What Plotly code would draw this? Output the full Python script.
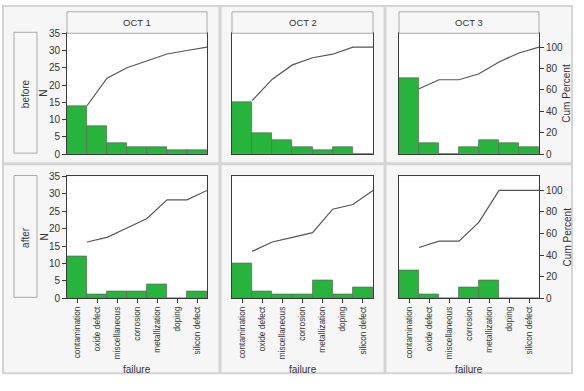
import numpy as np
import plotly.graph_objects as go

# ---------------- data ----------------
failures = ["contamination", "oxide defect", "miscellaneous", "corrosion",
            "metallization", "doping", "silicon defect"]
dates = ["OCT 1", "OCT 2", "OCT 3"]
groups = ["before", "after"]

before_oct1 = [14, 8, 3, 2, 2, 1, 1]
before_oct2 = [15, 6, 4, 2, 1, 2, 0]
before_oct3 = [22, 3, 0, 2, 4, 3, 2]
after_oct1 = [12, 1, 2, 2, 4, 0, 2]
after_oct2 = [10, 2, 1, 1, 5, 1, 3]
after_oct3 = [8, 1, 0, 3, 5, 0, 0]

n_ticks = [0, 5, 10, 15, 20, 25, 30, 35]
pct_ticks = [0, 20, 40, 60, 80, 100]
N_MAX = 35
PCT_TOP = 100 * 35 / 31   # percent scale aligned so 100% sits at N = 31

counts = {
    ("before", 0): before_oct1, ("before", 1): before_oct2, ("before", 2): before_oct3,
    ("after", 0): after_oct1, ("after", 1): after_oct2, ("after", 2): after_oct3,
}

# ---------------- layout geometry (pixels) ----------------
W, H = 584, 391
col_x = [(67, 207), (232, 373), (399, 539)]
row_y = [(29, 153), (176, 301)]


def px(x):
    return x / W


def py(y):
    return 1 - y / H


BAR_COLOR = "#27b43c"
FONT = "Liberation Sans, Arial, sans-serif"
TXT = "#333333"
AX = "#3a3a3a"

fig = go.Figure()
layout = {}
idx = np.arange(len(failures))

for r, grp in enumerate(groups):
    for c in range(3):
        k = r * 3 + c
        xa = k + 1
        ya = k + 1
        yp = k + 7
        vals = np.array(counts[(grp, c)], dtype=float)
        cum_pct = np.cumsum(vals) / vals.sum() * 100

        fig.add_trace(go.Bar(
            x=idx, y=vals, width=1.0,
            marker=dict(color=BAR_COLOR, line=dict(color="#5f6f5f", width=0.8)),
            xaxis=f"x{xa}", yaxis=f"y{ya}", showlegend=False, hoverinfo="skip"))
        fig.add_trace(go.Scatter(
            x=idx + 0.5, y=cum_pct, mode="lines",
            line=dict(color="#555555", width=1.2),
            xaxis=f"x{xa}", yaxis=f"y{yp}", showlegend=False, hoverinfo="skip"))

        x0, x1 = col_x[c]
        y0, y1 = row_y[r]
        bottom = (r == 1)
        layout[f"xaxis{xa}"] = dict(
            domain=[px(x0), px(x1)], anchor=f"y{ya}",
            range=[-0.5, len(failures) - 0.5],
            tickvals=list(idx), ticktext=failures,
            showticklabels=bottom, ticks="outside" if bottom else "",
            ticklen=4, tickcolor=AX, tickangle=-90,
            tickfont=dict(size=8.3, color=TXT, family=FONT),
            showline=True, linecolor=AX, linewidth=1, mirror=True,
            showgrid=False, zeroline=False, fixedrange=True)
        left = (c == 0)
        layout[f"yaxis{ya}"] = dict(
            domain=[py(y1), py(y0)], anchor=f"x{xa}",
            range=[0, N_MAX], tickvals=n_ticks,
            showticklabels=left, ticks="outside" if left else "",
            ticklen=4, tickcolor=AX,
            tickfont=dict(size=10, color=TXT, family=FONT),
            showline=True, linecolor=AX, linewidth=1, mirror=True,
            showgrid=False, zeroline=False, fixedrange=True)
        right = (c == 2)
        layout[f"yaxis{yp}"] = dict(
            overlaying=f"y{ya}", anchor=f"x{xa}", side="right",
            range=[0, PCT_TOP], tickvals=pct_ticks,
            showticklabels=right, ticks="outside" if right else "",
            ticklen=4, tickcolor=AX,
            tickfont=dict(size=10, color=TXT, family=FONT),
            showline=False, showgrid=False, zeroline=False, fixedrange=True)

shapes = []
annotations = []
CELL_BG = "#f6f6f6"
DIV = "#d4d4d4"


def label(text, x, y, size=10, angle=0):
    return dict(text=text, xref="paper", yref="paper", x=px(x), y=py(y),
                xanchor="center", yanchor="middle", showarrow=False,
                textangle=angle, font=dict(size=size, color=TXT, family=FONT))


# cell background + dividers
shapes.append(dict(type="rect", xref="paper", yref="paper",
                   x0=px(3), x1=px(572), y0=py(378), y1=py(1),
                   fillcolor=CELL_BG, line=dict(color=DIV, width=2), layer="below"))
for xd in (220, 385):
    shapes.append(dict(type="line", xref="paper", yref="paper",
                       x0=px(xd), x1=px(xd), y0=py(378), y1=py(1),
                       line=dict(color=DIV, width=3), layer="below"))
shapes.append(dict(type="line", xref="paper", yref="paper",
                   x0=px(3), x1=px(572), y0=py(163), y1=py(163),
                   line=dict(color=DIV, width=3), layer="below"))
# plot area white backgrounds
for r in range(2):
    for c in range(3):
        x0, x1 = col_x[c]
        y0, y1 = row_y[r]
        shapes.append(dict(type="rect", xref="paper", yref="paper",
                           x0=px(x0), x1=px(x1), y0=py(y1), y1=py(y0),
                           fillcolor="white", line=dict(width=0), layer="below"))

# column header boxes
for c, d in enumerate(dates):
    x0, x1 = col_x[c]
    shapes.append(dict(type="rect", xref="paper", yref="paper",
                       x0=px(x0), x1=px(x1), y0=py(29), y1=py(7),
                       fillcolor="#f7f7f7", line=dict(color="#a9a9a9", width=1)))
    annotations.append(label(d, (x0 + x1) / 2, 18, size=9.5))
    annotations.append(label("failure", (x0 + x1) / 2, 374, size=10))

# row header boxes + axis titles
for r, grp in enumerate(groups):
    y0, y1 = row_y[r]
    shapes.append(dict(type="rect", xref="paper", yref="paper",
                       x0=px(14), x1=px(37), y0=py(y1 - 1), y1=py(y0 - 1),
                       fillcolor="#f7f7f7", line=dict(color="#a9a9a9", width=1)))
    annotations.append(label(grp, 25.5, (y0 + y1) / 2, size=10, angle=-90))
    annotations.append(label("N", 44, (y0 + y1) / 2, size=10, angle=-90))
    annotations.append(label("Cum Percent", 567, (y0 + y1) / 2, size=10, angle=-90))

fig.update_layout(
    width=W, height=H,
    margin=dict(l=0, r=0, t=0, b=0),
    paper_bgcolor="white", plot_bgcolor="white",
    bargap=0, showlegend=False,
    shapes=shapes, annotations=annotations,
    **layout)

fig.write_html("out.html", config={"displayModeBar": False},
               post_script="document.body.style.margin='0';document.body.style.padding='0';")
